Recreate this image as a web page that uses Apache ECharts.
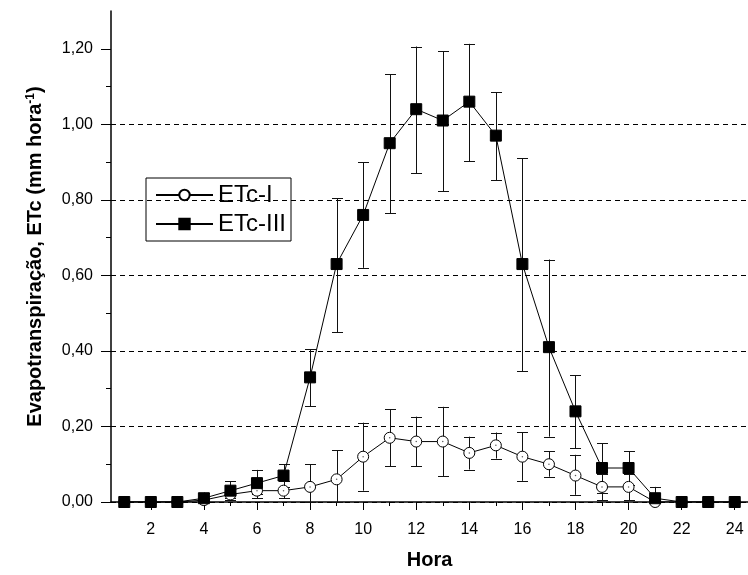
<!DOCTYPE html>
<html>
<head>
<meta charset="utf-8">
<script src="https://cdn.jsdelivr.net/npm/echarts@6/dist/echarts.min.js"></script>
<style>
  html, body { margin: 0; padding: 0; background: #fff; }
  #myChart { width: 748px; height: 575px; }
</style>
</head>
<body>
<div id="myChart"></div>
<script>
// horas do dia
var hours = [1, 2, 3, 4, 5, 6, 7, 8, 9, 10, 11, 12, 13, 14, 15, 16, 17, 18, 19, 20, 21, 22, 23, 24]
var majorHours = [2, 4, 6, 8, 10, 12, 14, 16, 18, 20, 22, 24]
var minorHours = [1, 3, 5, 7, 9, 11, 13, 15, 17, 19, 21, 23]
var majorY = [0, 0.2, 0.4, 0.6, 0.8, 1.0, 1.2]
var minorY = [0.1, 0.3, 0.5, 0.7, 0.9, 1.1]

// ETc-I
var etc1 = [0, 0, 0, 0.005, 0.02, 0.03, 0.03, 0.04, 0.06, 0.12, 0.17, 0.16, 0.16, 0.13, 0.15, 0.12, 0.10, 0.07, 0.04, 0.04, 0, 0, 0, 0]
var etc1Low = [null, null, null, null, 0.005, 0.01, 0.01, 0.0, 0.0, 0.03, 0.095, 0.094, 0.069, 0.086, 0.115, 0.056, 0.067, 0.019, 0.005, 0.004, null, null, null, null]
var etc1High = [null, null, null, null, 0.035, 0.05, 0.055, 0.10, 0.137, 0.21, 0.245, 0.226, 0.252, 0.173, 0.184, 0.185, 0.134, 0.125, 0.075, 0.075, null, null, null, null]

// ETc-III
var etc3 = [0, 0, 0, 0.01, 0.03, 0.05, 0.07, 0.33, 0.63, 0.76, 0.95, 1.04, 1.01, 1.06, 0.97, 0.63, 0.41, 0.24, 0.09, 0.09, 0.01, 0, 0, 0]
var etc3Low = [null, null, null, 0.0, 0.01, 0.02, 0.04, 0.253, 0.45, 0.62, 0.765, 0.87, 0.823, 0.902, 0.852, 0.346, 0.173, 0.142, 0.023, 0.045, 0.0, null, null, null]
var etc3High = [null, null, null, 0.025, 0.055, 0.085, 0.10, 0.405, 0.804, 0.90, 1.133, 1.206, 1.194, 1.213, 1.085, 0.91, 0.642, 0.336, 0.155, 0.135, 0.04, null, null, null]

var FONT = 'Liberation Sans, Arial, sans-serif'

function pairs(ys) {
  return hours.map(function (h, i) { return [h, ys[i]] })
}
function errData(lo, hi) {
  var out = []
  for (var i = 0; i < hours.length; i++) {
    if (lo[i] !== null && hi[i] !== null) out.push([hours[i], lo[i], hi[i]])
  }
  return out
}
// barra de erro: linha vertical com tampas
function renderErr(params, api) {
  var x = api.value(0)
  var lo = api.coord([x, api.value(1)])
  var hi = api.coord([x, api.value(2)])
  var cx = Math.round(lo[0]) + 0.5
  var w = 5.5
  var st = { stroke: '#111', lineWidth: 1 }
  return {
    type: 'group',
    children: [
      { type: 'line', shape: { x1: cx, y1: lo[1], x2: cx, y2: hi[1] }, style: st },
      { type: 'line', shape: { x1: cx - w, y1: Math.round(hi[1]) + 0.5, x2: cx + w, y2: Math.round(hi[1]) + 0.5 }, style: st },
      { type: 'line', shape: { x1: cx - w, y1: Math.round(lo[1]) + 0.5, x2: cx + w, y2: Math.round(lo[1]) + 0.5 }, style: st }
    ]
  }
}

var myChart = echarts.init(document.getElementById('myChart'))
myChart.setOption({
  animation: false,
  textStyle: { fontFamily: FONT, color: '#000' },
  grid: { left: 111, right: -5, top: 11, bottom: 68 },
  legend: {
    left: 146,
    top: 178,
    orient: 'vertical',
    data: ['ETc-I', 'ETc-III'],
    itemWidth: 57,
    itemHeight: 13,
    itemGap: 5,
    padding: [5, 5, 5, 9],
    borderColor: '#000',
    borderWidth: 1,
    textStyle: { fontFamily: FONT, fontSize: 24, color: '#000' }
  },
  xAxis: [
    {
      type: 'value',
      min: 0.5,
      max: 24.5,
      name: 'Hora',
      nameLocation: 'middle',
      nameGap: 48,
      nameTextStyle: { fontFamily: FONT, fontSize: 20, fontWeight: 'bold', color: '#000' },
      axisLine: { show: true, onZero: false, lineStyle: { color: '#000', width: 1.5 } },
      axisTick: { show: true, customValues: majorHours, length: 8, lineStyle: { color: '#000' } },
      axisLabel: { customValues: majorHours, margin: 20, fontSize: 16, color: '#000', fontFamily: FONT },
      splitLine: { show: false }
    },
    {
      type: 'value',
      min: 0.5,
      max: 24.5,
      position: 'bottom',
      axisLine: { show: false },
      axisTick: { show: true, customValues: minorHours, length: 4, lineStyle: { color: '#000' } },
      axisLabel: { show: false },
      splitLine: { show: false }
    }
  ],
  yAxis: [
    {
      type: 'value',
      min: 0,
      max: 1.3,
      interval: 0.2,
      position: 'left',
      name: 'Evapotranspiração, ETc (mm hora{sup|-1})',
      nameLocation: 'middle',
      nameGap: 66,
      nameTextStyle: {
        fontFamily: FONT, fontSize: 20, fontWeight: 'bold', color: '#000',
        rich: { sup: { fontFamily: FONT, fontSize: 12, fontWeight: 'bold', color: '#000', verticalAlign: 'top' } }
      },
      axisLine: { show: true, onZero: false, lineStyle: { color: '#000', width: 1.5 } },
      axisTick: { show: true, customValues: majorY, length: 10, lineStyle: { color: '#000' } },
      axisLabel: {
        customValues: majorY,
        margin: 18,
        fontSize: 16,
        color: '#000',
        fontFamily: FONT,
        formatter: function (v) { return v.toFixed(2).replace('.', ',') }
      },
      splitLine: { show: true, showMaxLine: false, lineStyle: { color: '#000', type: [5, 4], width: 1 } }
    },
    {
      type: 'value',
      min: 0,
      max: 1.3,
      position: 'left',
      axisLine: { show: false },
      axisTick: { show: true, customValues: minorY, length: 5, lineStyle: { color: '#000' } },
      axisLabel: { show: false },
      splitLine: { show: false }
    }
  ],
  series: [
    {
      type: 'custom',
      name: 'errI',
      renderItem: renderErr,
      data: errData(etc1Low, etc1High),
      z: 1,
      silent: true
    },
    {
      type: 'custom',
      name: 'errIII',
      renderItem: renderErr,
      data: errData(etc3Low, etc3High),
      z: 1,
      silent: true
    },
    {
      name: 'ETc-I',
      type: 'line',
      data: pairs(etc1),
      symbol: 'circle',
      symbolSize: 11,
      showAllSymbol: true,
      lineStyle: { color: '#000', width: 1 },
      itemStyle: { color: '#fff', borderColor: '#000', borderWidth: 1 },
      z: 3
    },
    {
      // ponto central dos círculos
      name: 'dotI',
      type: 'scatter',
      data: pairs(etc1),
      symbol: 'circle',
      symbolSize: 1.5,
      itemStyle: { color: '#333' },
      z: 3,
      zlevel: 0,
      silent: true
    },
    {
      name: 'ETc-III',
      type: 'line',
      data: pairs(etc3),
      symbol: 'rect',
      symbolSize: 11,
      showAllSymbol: true,
      lineStyle: { color: '#000', width: 1 },
      itemStyle: { color: '#000', borderColor: '#000', borderWidth: 1 },
      z: 4
    }
  ]
})
</script>
</body>
</html>
